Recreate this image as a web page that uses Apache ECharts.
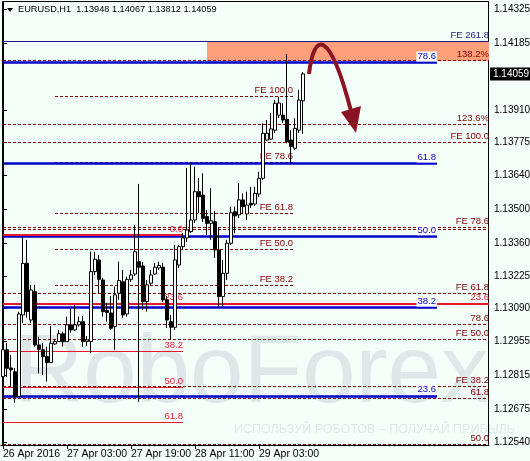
<!DOCTYPE html>
<html><head><meta charset="utf-8">
<script src="https://cdn.jsdelivr.net/npm/echarts@6/dist/echarts.min.js"></script>
<style>html,body{margin:0;padding:0;background:#f5fffa}#c{width:530px;height:461px}</style>
</head><body><div id="c"></div>
<script>
// ---- data ----
const opens  = [1.12809,1.12920,1.12845,1.12829,1.12727,1.13064,1.13277,1.13043,1.13160,1.12940,1.12920,1.12892,1.12867,1.12944,1.12954,1.12986,1.12954,1.13023,1.13002,1.13023,1.13036,1.12954,1.12954,1.13243,1.13291,1.13208,1.13082,1.13072,1.13016,1.13154,1.13201,1.13068,1.13211,1.13233,1.13284,1.13266,1.13119,1.13195,1.13233,1.13258,1.13261,1.13126,1.13036,1.13013,1.13270,1.13346,1.13382,1.13408,1.13456,1.13573,1.13559,1.13470,1.13442,1.13449,1.13332,1.13140,1.13236,1.13360,1.13490,1.13477,1.13539,1.13481,1.13525,1.13522,1.13563,1.13628,1.13786,1.13790,1.13827,1.13889,1.13889,1.13872,1.13786,1.13752,1.13827,1.13948];
const highs  = [1.12995,1.12948,1.12899,1.12845,1.13077,1.13387,1.13374,1.13188,1.13188,1.12974,1.12948,1.12933,1.13019,1.12961,1.13002,1.12995,1.13057,1.13093,1.13105,1.13057,1.13060,1.12977,1.13325,1.13325,1.13312,1.13217,1.13114,1.13142,1.13181,1.13284,1.13250,1.13222,1.13250,1.13435,1.13605,1.13283,1.13208,1.13250,1.13279,1.13283,1.13279,1.13142,1.13064,1.13353,1.13353,1.13402,1.13671,1.13690,1.13676,1.13629,1.13649,1.13497,1.13587,1.13493,1.13427,1.13291,1.13374,1.13511,1.13511,1.13608,1.13566,1.13573,1.13593,1.13593,1.13655,1.13855,1.13869,1.13898,1.13951,1.13965,1.13938,1.14141,1.13827,1.13876,1.13993,1.14067];
const lows   = [1.12768,1.12808,1.12767,1.12701,1.12725,1.13030,1.13052,1.13031,1.12933,1.12823,1.12816,1.12789,1.12866,1.12940,1.12953,1.12933,1.12953,1.12990,1.12998,1.13016,1.12933,1.12936,1.12906,1.13229,1.13154,1.13057,1.13036,1.13002,1.12920,1.13126,1.13052,1.13057,1.13200,1.13225,1.12705,1.13085,1.13078,1.13188,1.13229,1.13250,1.13118,1.13010,1.12961,1.13002,1.13258,1.13332,1.13365,1.13402,1.13444,1.13485,1.13448,1.13394,1.13374,1.13299,1.13098,1.13098,1.13208,1.13353,1.13401,1.13464,1.13484,1.13456,1.13506,1.13514,1.13552,1.13621,1.13782,1.13786,1.13815,1.13877,1.13856,1.13773,1.13690,1.13745,1.13815,1.13812];
const closes = [1.12920,1.12844,1.12837,1.12727,1.13068,1.13277,1.13078,1.13167,1.12940,1.12922,1.12892,1.12867,1.12947,1.12954,1.12986,1.12954,1.13023,1.13002,1.13023,1.13036,1.12954,1.12961,1.13243,1.13294,1.13211,1.13078,1.13074,1.13009,1.13147,1.13206,1.13064,1.13211,1.13229,1.13325,1.13261,1.13119,1.13188,1.13229,1.13261,1.13268,1.13126,1.13043,1.13013,1.13291,1.13346,1.13382,1.13415,1.13456,1.13573,1.13552,1.13463,1.13442,1.13453,1.13332,1.13140,1.13236,1.13360,1.13486,1.13473,1.13539,1.13511,1.13518,1.13518,1.13566,1.13628,1.13814,1.13814,1.13832,1.13938,1.13939,1.13869,1.13779,1.13759,1.13834,1.13951,1.14059];

const tickIdx  = [0,16,32,48,64];
const tickText = ['26 Apr 2016','27 Apr 03:00','27 Apr 19:00','28 Apr 11:00','29 Apr 03:00'];
const priceTicks = [1.14325,1.14185,1.13910,1.13775,1.13640,1.13500,1.13360,1.13225,1.13090,1.12955,1.12815,1.12675,1.12540];
const yMin = 1.12527, yMax = 1.14356;
const lastPrice = 1.14059;
const header = 'EURUSD,H1  1.13948 1.14067 1.13812 1.14059';

// level lines
const rightLabels = ['138.2%','123.6%','FE 100.0','FE 78.6','','FE 61.8','78.6','FE 50.0','FE 38.2','61.8','50.0'];
const rightPrices = [1.14116,1.13852,1.13778,1.13427,1.13418,1.13154,1.13026,1.12964,1.12768,1.12721,1.12530];
const feLabels = ['FE 100.0','FE 78.6','FE 61.8','FE 50.0','FE 38.2'];
const fePrices = [1.13968,1.13695,1.13485,1.13334,1.13188];
const blueLabels = ['78.6','61.8','50.0','38.2','23.6'];
const bluePrices = [1.14106,1.13689,1.13389,1.13094,1.12730];
const redLabels = ['0.0','23.6','38.2','50.0','61.8'];
const redPrices = [1.13394,1.13111,1.12915,1.12766,1.12622];
const fe2618 = 1.14195;
const red236Full = 1.13111;
const zone = [1.14195, 1.14112];

// ---- build ----
const nSlots = 122;
const months = ['Jan','Feb','Mar','Apr','May','Jun','Jul','Aug','Sep','Oct','Nov','Dec'];
const cats = [];
for (let i = 0; i < nSlots; i++) {
  const d = new Date(Date.UTC(2016, 3, 26, 11 + i));
  cats.push(d.getUTCDate() + ' ' + months[d.getUTCMonth()] + ' ' + String(d.getUTCHours()).padStart(2,'0') + ':00');
}
const ohlc = opens.map((o, i) => [o, closes[i], lows[i], highs[i]]);

const DR = '#800000', BLUE = '#0000c8', RED = '#e8182c', NAVY = '#1a1a80';
const FS = 9.5, FONT = 'Liberation Sans, Arial, sans-serif';
function hline(x0, x1, p, color, width, type, text, lblColor, bg) {
  return [
    {coord: [x0, p], lineStyle: {color: color, width: width, type: type},
     label: {show: !!text, formatter: text || '', position: 'insideEndTop', distance: [0, 1],
       color: lblColor || color, fontSize: FS, fontFamily: FONT,
       backgroundColor: bg || 'transparent', padding: bg ? [0, 1, 0, 1] : 0}},
    {coord: [x1, p]}
  ];
}
const lines = [];
const XL = 0, XR = 121.5;
lines.push(hline(XL, XR, fe2618, NAVY, 1, 'solid', 'FE 261.8', NAVY));
rightPrices.forEach((p, i) => lines.push(hline(XL, XR, p, DR, 1, [3, 2], rightLabels[i], DR)));
fePrices.forEach((p, i) => lines.push(hline(13, 72.5, p, DR, 1, [3, 2], feLabels[i], DR)));
lines.push(hline(XL, XR, red236Full, RED, 2, 'solid', '23.6', RED));
bluePrices.forEach((p, i) => lines.push(hline(XL, 108.5, p, BLUE, 2.5, 'solid', blueLabels[i], BLUE, '#ffffff')));
redPrices.forEach((p, i) => lines.push(hline(XL, 45, p, RED, i < 2 ? 2 : 1, 'solid', redLabels[i], RED)));
// current price tag (invisible line, label at the axis)
lines.push([
  {coord: [XL, lastPrice], lineStyle: {color: 'rgba(0,0,0,0)', width: 0},
   label: {show: true, position: 'end', distance: 1, formatter: lastPrice.toFixed(5),
     color: '#fff', backgroundColor: '#000', padding: [2, 2, 1, 3], fontSize: 10, fontFamily: FONT}},
  {coord: [XR, lastPrice]}
]);

const chart = echarts.init(document.getElementById('c'));
chart.setOption({
  animation: false,
  backgroundColor: '#f5fffa',
  textStyle: {fontFamily: FONT},
  grid: {left: 1, right: 41, top: 2, bottom: 16, outerBoundsMode: 'none', containLabel: false},
  xAxis: [{
    type: 'category', data: cats, boundaryGap: true,
    axisLine: {lineStyle: {color: '#000', width: 1}},
    axisTick: {show: true, alignWithLabel: true, length: 4, interval: (i) => tickIdx.includes(i), lineStyle: {color: '#000'}},
    axisLabel: {interval: (i) => tickIdx.includes(i), formatter: (v, i) => tickText[tickIdx.indexOf(i)] || '',
      align: 'left', fontSize: 10.5, color: '#000', margin: 4, fontFamily: FONT},
    splitLine: {show: false}
  }, {
    type: 'value', min: -0.5, max: 121.5, show: false
  }],
  yAxis: {
    type: 'value', position: 'right', min: yMin, max: yMax, scale: true,
    axisLine: {show: true, lineStyle: {color: '#000'}},
    axisTick: {show: true, length: 4, customValues: priceTicks, lineStyle: {color: '#000'}},
    axisLabel: {customValues: priceTicks, formatter: (v) => v.toFixed(5), fontSize: 10, color: '#000', margin: 5, fontFamily: FONT},
    splitLine: {show: false}
  },
  graphic: [
    {type: 'text', z: -10, x: 14, y: 328, silent: true,
     style: {text: 'RoboForex', fontSize: 96, fontFamily: FONT, fill: '#dfe8e8'}},
    {type: 'text', z: -10, x: 234, y: 423, silent: true,
     style: {text: 'ИСПОЛЬЗУЙ РОБОТОВ – ПОЛУЧАЙ ПРИБЫЛЬ', fontSize: 12.5, fontFamily: FONT, fill: '#dfe8e8'}},
    {type: 'polygon', shape: {points: [[7, 8], [13, 8], [10, 12]]}, style: {fill: '#000'}},
    {type: 'text', x: 18, y: 5, style: {text: header, fontSize: 9.2, fontFamily: FONT, fill: '#000'}},
    {type: 'rect', shape: {x: 2.5, y: 1.5, width: 486, height: 444}, style: {fill: null, stroke: '#000', lineWidth: 1}, silent: true},
    {type: 'bezierCurve', z: 50, shape: {x1: 309, y1: 74, cpx1: 314, cpy1: 30, cpx2: 330, cpy2: 30, x2: 351, y2: 111}, style: {fill: null, stroke: '#8b1424', lineWidth: 4}},
    {type: 'polygon', z: 50, shape: {points: [[341, 112], [361, 106], [356, 133]]}, style: {fill: '#8b1424'}}
  ],
  series: [{
    type: 'line', xAxisIndex: 1, data: [], silent: true,
    markArea: {silent: true, itemStyle: {color: '#ffa07a', opacity: 1},
      data: [[{coord: [51, zone[0]]}, {coord: [XR, zone[1]]}]]},
    markLine: {silent: true, symbol: 'none', animation: false, data: lines}
  }, {
    type: 'candlestick', data: ohlc, barWidth: 3, z: 5,
    itemStyle: {color: '#ffffff', color0: '#000000', borderColor: '#000', borderColor0: '#000', borderWidth: 1}
  }]
});
</script></body></html>
